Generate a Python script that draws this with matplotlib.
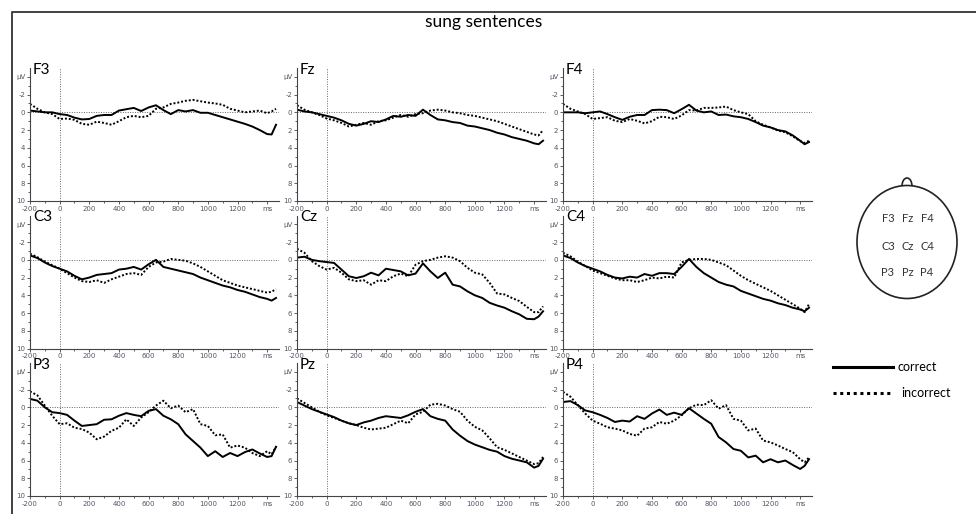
"""
ERP 圖重現：sung sentences，3x3 電極，correct (實線) vs incorrect (虛線)
"""
import matplotlib
matplotlib.use("Agg")
import matplotlib.pyplot as plt
from matplotlib.patches import Ellipse, Arc

plt.rcParams["font.family"] = ["DejaVu Sans"]
LABEL_FONT = ["Lato", "DejaVu Sans"]

# ── 資料 (ms / µV) ────────────────────────────────────────────────
TIME = [-200, -150, -100, -50, 0, 50, 100, 150, 200, 250, 300, 350, 400, 450,
        500, 550, 600, 650, 700, 750, 800, 850, 900, 950, 1000, 1050, 1100,
        1150, 1200, 1250, 1300, 1350, 1400, 1430, 1460]

F3_CORRECT = [-0.2, -0.1, 0, 0, 0.2, 0.3, 0.6, 0.8, 0.75, 0.4, 0.3, 0.3, -0.2, -0.35,
              -0.5, -0.15, -0.55, -0.8, -0.25, 0.2, -0.25, -0.1, -0.25, 0.05, 0.05,
              0.3, 0.55, 0.8, 1.05, 1.3, 1.6, 2.0, 2.45, 2.5, 1.4]
F3_INCORRECT = [-0.95, -0.4, 0, 0.2, 0.75, 0.7, 0.85, 1.3, 1.4, 1.05, 1.2, 1.4, 1.0, 0.55,
                0.4, 0.55, 0.4, -0.4, -0.55, -0.95, -1.1, -1.3, -1.4, -1.25, -1.1,
                -1.0, -0.85, -0.4, -0.2, 0, -0.1, -0.2, 0.1, -0.1, -0.4]
FZ_CORRECT = [-0.3, -0.1, 0, 0.2, 0.4, 0.6, 0.9, 1.3, 1.5, 1.3, 1.0, 1.1, 0.8, 0.4,
              0.5, 0.3, 0.4, -0.3, 0.3, 0.8, 0.9, 1.1, 1.2, 1.5, 1.6, 1.8, 2.0,
              2.3, 2.5, 2.8, 3.0, 3.2, 3.5, 3.6, 3.2]
FZ_INCORRECT = [-0.8, -0.3, 0, 0.3, 0.7, 0.9, 1.2, 1.6, 1.4, 1.2, 1.4, 1.0, 0.9, 0.6,
                0.3, 0.5, 0.2, 0.1, -0.2, -0.3, -0.2, 0, 0.1, 0.3, 0.4, 0.6, 0.8,
                1.0, 1.3, 1.6, 1.9, 2.2, 2.5, 2.6, 2.0]
F4_CORRECT = [0, 0, 0, 0.1, 0, -0.1, 0.2, 0.55, 0.85, 0.5, 0.3, 0.3, -0.25, -0.3,
              -0.25, 0.1, -0.35, -0.85, -0.2, 0, -0.1, 0.3, 0.25, 0.45, 0.55, 0.75,
              1.1, 1.5, 1.7, 2.0, 2.15, 2.6, 3.2, 3.6, 3.35]
F4_INCORRECT = [-0.95, -0.4, -0.1, 0.2, 0.75, 0.65, 0.55, 0.95, 1.1, 0.75, 0.95, 1.25,
                1.0, 0.5, 0.55, 0.75, 0.35, -0.25, -0.2, -0.5, -0.5, -0.55, -0.65,
                -0.25, 0, 0.2, 1.0, 1.4, 1.7, 2.05, 2.25, 2.7, 3.25, 3.45, 3.2]

C3_CORRECT = [-0.5, -0.2, 0.3, 0.7, 1.0, 1.3, 1.8, 2.2, 2.0, 1.7, 1.6, 1.5, 1.1, 1.0,
              0.8, 1.1, 0.5, 0.0, 0.8, 1.0, 1.2, 1.4, 1.6, 2.0, 2.3, 2.6, 2.9, 3.1,
              3.4, 3.6, 3.9, 4.2, 4.4, 4.6, 4.3]
C3_INCORRECT = [-0.7, -0.3, 0.2, 0.6, 1.0, 1.5, 2.0, 2.4, 2.5, 2.3, 2.6, 2.2, 1.9, 1.6,
                1.5, 1.7, 0.8, 0.3, 0.2, -0.1, 0.0, 0.1, 0.4, 0.8, 1.3, 1.8, 2.3, 2.6,
                2.9, 3.1, 3.3, 3.5, 3.7, 3.6, 3.3]
CZ_CORRECT = [-0.25, -0.35, 0, 0.15, 0.25, 0.35, 1.1, 1.85, 2.05, 1.85, 1.45, 1.75, 1.0,
              1.15, 1.3, 1.75, 1.55, 0.4, 1.3, 2.05, 1.45, 2.8, 3.0, 3.55, 4.0, 4.3,
              4.85, 5.15, 5.4, 5.8, 6.15, 6.65, 6.7, 6.4, 5.8]
CZ_INCORRECT = [-1.25, -0.8, 0.15, 0.7, 1.1, 0.9, 1.45, 2.2, 2.4, 2.3, 2.8, 2.3, 2.4,
                1.85, 1.55, 1.85, 0.55, 0.15, 0, -0.25, -0.4, -0.25, 0.15, 0.9, 1.45,
                1.65, 2.6, 3.8, 3.9, 4.3, 4.65, 5.3, 5.9, 5.9, 5.25]
C4_CORRECT = [-0.5, -0.2, 0.3, 0.7, 1.0, 1.3, 1.7, 2.0, 2.1, 1.9, 2.0, 1.6, 1.8, 1.5,
              1.5, 1.6, 0.8, -0.1, 0.8, 1.5, 2.0, 2.5, 2.8, 3.0, 3.5, 3.8, 4.1, 4.4,
              4.6, 4.9, 5.1, 5.4, 5.6, 5.8, 5.4]
C4_INCORRECT = [-0.8, -0.4, 0.2, 0.7, 1.2, 1.5, 1.8, 2.1, 2.3, 2.3, 2.5, 2.3, 2.0, 2.1,
                1.9, 2.0, 0.3, 0.0, -0.1, -0.1, 0.0, 0.3, 0.6, 1.2, 1.8, 2.3, 2.7, 3.1,
                3.5, 4.0, 4.5, 5.0, 5.5, 5.9, 5.0]

P3_CORRECT = [-0.95, -0.75, 0, 0.55, 0.65, 0.85, 1.5, 2.1, 2.0, 1.9, 1.4, 1.35, 0.95,
              0.65, 0.85, 1.0, 0.4, 0.2, 0.95, 1.35, 1.9, 3.05, 3.8, 4.55, 5.5, 4.95,
              5.6, 5.15, 5.5, 5.05, 4.75, 5.2, 5.6, 5.5, 4.45]
P3_INCORRECT = [-1.8, -1.35, -0.2, 0.95, 1.9, 1.8, 2.3, 2.45, 2.85, 3.6, 3.3, 2.65, 2.3,
                1.35, 2.1, 1.15, 0.55, -0.2, -0.75, 0.1, -0.2, 0.55, 0.2, 1.9, 2.1,
                3.15, 3.05, 4.55, 4.3, 4.55, 5.15, 5.5, 4.95, 5.3, 4.45]
PZ_CORRECT = [-0.6, -0.2, 0.2, 0.5, 0.8, 1.1, 1.5, 1.8, 2.0, 1.7, 1.5, 1.2, 1.0, 1.1,
              1.2, 0.9, 0.5, 0.2, 1.0, 1.3, 1.5, 2.5, 3.2, 3.8, 4.2, 4.5, 4.8, 5.0,
              5.5, 5.8, 6.0, 6.2, 6.8, 6.6, 5.8]
PZ_INCORRECT = [-1.0, -0.5, 0.0, 0.5, 0.9, 1.2, 1.5, 1.8, 2.0, 2.3, 2.5, 2.4, 2.3, 1.9,
                1.5, 1.8, 0.8, 0.5, -0.3, -0.4, -0.2, 0.2, 0.5, 1.5, 2.2, 2.6, 3.5,
                4.5, 4.8, 5.2, 5.6, 6.0, 6.4, 6.3, 5.6]
P4_CORRECT = [-0.6, -0.7, -0.25, 0.35, 0.55, 0.85, 1.2, 1.65, 1.5, 1.6, 1.0, 1.3, 0.7,
              0.25, 0.85, 0.6, 0.85, 0.1, 0.7, 1.3, 1.85, 3.35, 3.95, 4.7, 4.9, 5.65,
              5.45, 6.2, 5.85, 6.2, 6.0, 6.5, 6.95, 6.6, 5.85]
P4_INCORRECT = [-1.75, -1.2, -0.25, 0.7, 1.5, 1.85, 2.25, 2.4, 2.6, 3.0, 3.2, 2.4, 2.25,
                1.65, 1.85, 1.5, 0.9, 0.1, -0.3, -0.25, -0.8, 0.15, -0.25, 1.3, 1.5,
                2.6, 2.4, 3.75, 3.95, 4.3, 4.7, 5.05, 5.85, 6.2, 5.65]

CHANNELS = [["F3", "Fz", "F4"], ["C3", "Cz", "C4"], ["P3", "Pz", "P4"]]
CORRECT = {"F3": F3_CORRECT, "Fz": FZ_CORRECT, "F4": F4_CORRECT,
           "C3": C3_CORRECT, "Cz": CZ_CORRECT, "C4": C4_CORRECT,
           "P3": P3_CORRECT, "Pz": PZ_CORRECT, "P4": P4_CORRECT}
INCORRECT = {"F3": F3_INCORRECT, "Fz": FZ_INCORRECT, "F4": F4_INCORRECT,
             "C3": C3_INCORRECT, "Cz": CZ_INCORRECT, "C4": C4_INCORRECT,
             "P3": P3_INCORRECT, "Pz": PZ_INCORRECT, "P4": P4_INCORRECT}

XTICKS = [-200, 0, 200, 400, 600, 800, 1000, 1200, 1400]
XTICK_LABELS = ["-200", "0", "200", "400", "600", "800", "1000", "1200", "ms"]
YTICKS = [-4, -2, 0, 2, 4, 6, 8, 10]
YTICK_LABELS = ["µV", "-2", "0", "2", "4", "6", "8", "10"]

# ── 版面 (像素) ──────────────────────────────────────────────────
W, H = 976, 514
COL_X = [30, 297, 563]
ROW_Y = [68, 215.5, 363]
PW, PH = 249, 133

fig = plt.figure(figsize=(W / 100, H / 100), dpi=100)

bg = fig.add_axes([0, 0, 1, 1])
bg.set_xlim(0, W); bg.set_ylim(H, 0); bg.axis("off")
bg.plot([12, 12, W + 5], [H + 5, 12, 12], color="#333", lw=1.3)
bg.text(484, 22, "sung sentences", ha="center", va="center", fontsize=12.5,
        family=LABEL_FONT)

# 頭部示意
bg.add_patch(Ellipse((907, 242), 100, 113, fill=False, ec="#222", lw=1.2))
bg.add_patch(Arc((907, 186), 10, 16, theta1=180, theta2=360, ec="#222", lw=1.2))
for r, row in enumerate(CHANNELS):
    for c, ch in enumerate(row):
        bg.text(888 + c * 19.5, 219 + r * 27, ch, ha="center", va="center",
                fontsize=8, color="#333", family=LABEL_FONT)

# 圖例
bg.plot([833, 893], [367, 367], color="black", lw=2.2)
bg.text(898, 367, "correct", va="center", fontsize=9, family=LABEL_FONT)
bg.plot([833, 893], [393, 393], color="black", lw=2.2, ls=(0, (1, 1.2)))
bg.text(901, 393, "incorrect", va="center", fontsize=9, family=LABEL_FONT)

for r, row in enumerate(CHANNELS):
    for c, ch in enumerate(row):
        ax = fig.add_axes([COL_X[c] / W, 1 - (ROW_Y[r] + PH) / H, PW / W, PH / H])
        ax.set_facecolor("none")
        ax.axhline(0, color="#666", lw=0.7, ls=(0, (1, 1.5)))
        ax.axvline(0, color="#666", lw=0.7, ls=(0, (1, 1.5)))
        ax.plot(TIME, CORRECT[ch], color="black", lw=1.4)
        ax.plot(TIME, INCORRECT[ch], color="black", lw=1.4, ls=(0, (1, 1)))
        ax.set_xlim(-200, 1480)
        ax.set_ylim(10, -5)

        ax.set_xticks(XTICKS)
        ax.set_xticklabels(XTICK_LABELS)
        ax.set_xticks(range(-100, 1400, 200), minor=True)
        ax.set_yticks(YTICKS)
        ax.set_yticklabels(YTICK_LABELS)
        ax.set_yticks(range(-3, 10, 2), minor=True)
        ax.tick_params(which="both", direction="out", length=2.5, width=0.6,
                       color="#444", labelsize=5, labelcolor="#556", pad=1)
        ax.tick_params(which="minor", length=1.5)

        for side in ["top", "right"]:
            ax.spines[side].set_visible(False)
        for side in ["left", "bottom"]:
            ax.spines[side].set_color("#444")
            ax.spines[side].set_linewidth(0.8)

        ax.text(0.012, 1.04, ch, transform=ax.transAxes, fontsize=11, va="top",
                family=LABEL_FONT)

plt.savefig("out.png", dpi=100)
plt.close()
